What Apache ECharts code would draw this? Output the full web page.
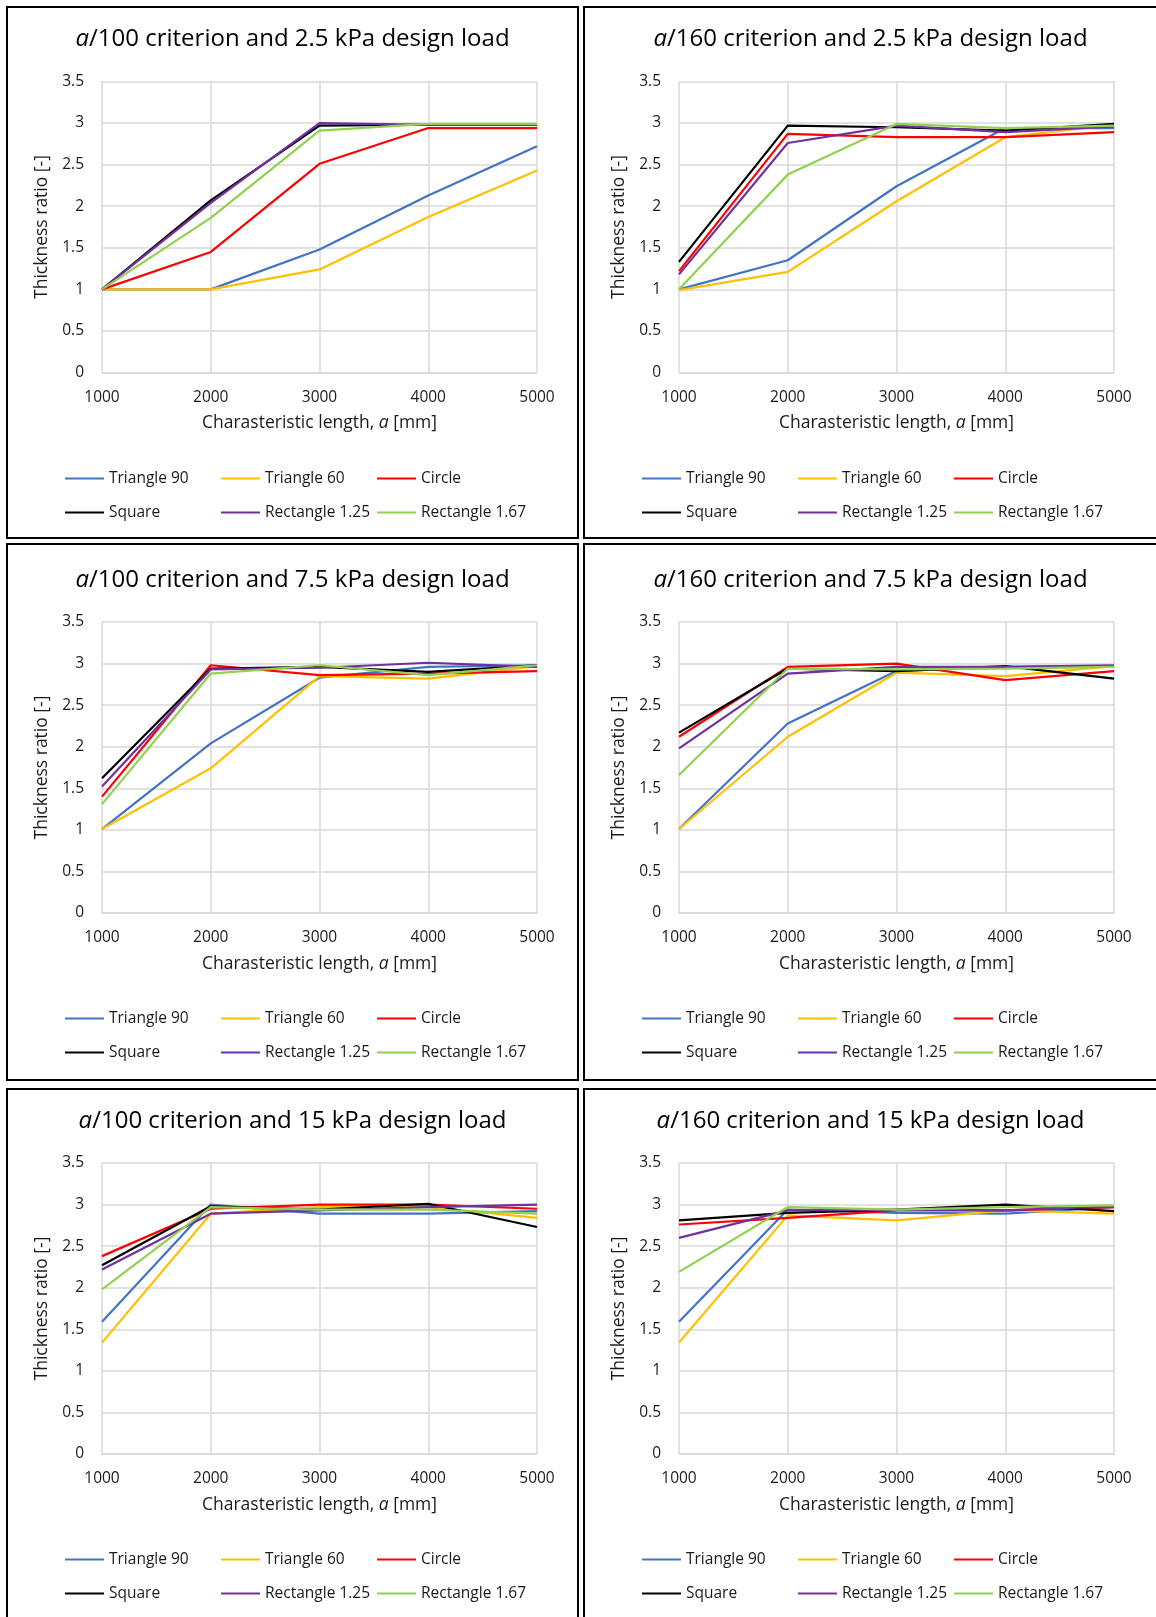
<!DOCTYPE html>
<html>
<head>
<meta charset="utf-8">
<script src="https://cdn.jsdelivr.net/npm/echarts@6/dist/echarts.min.js"></script>
<style>
  html, body { margin: 0; padding: 0; background: #fff; }
  #page { position: relative; width: 1156px; height: 1617px; overflow: hidden; }
  .panel { position: absolute; box-sizing: border-box; border: 2px solid #000; background: #fff; }
</style>
</head>
<body>
<div id="page"></div>
<script>
// x values (characteristic length, mm)
const lengths = [1000, 2000, 3000, 4000, 5000];
const shapeNames = ['Triangle 90', 'Triangle 60', 'Circle', 'Square', 'Rectangle 1.25', 'Rectangle 1.67'];
const shapeColors = ['#4472C4', '#FFC000', '#FF0000', '#000000', '#7030A0', '#92D050'];
const yTicks = [0, 0.5, 1, 1.5, 2, 2.5, 3, 3.5];

// thickness ratio per shape, one row per shape in shapeNames order
const a100_2_5kPa = [
  [1.00, 1.00, 1.48, 2.13, 2.72],
  [1.00, 1.00, 1.24, 1.87, 2.43],
  [1.00, 1.45, 2.51, 2.94, 2.94],
  [1.00, 2.07, 2.97, 2.98, 2.98],
  [1.00, 2.04, 3.00, 2.98, 2.98],
  [1.00, 1.86, 2.91, 2.99, 2.99]
];
const a160_2_5kPa = [
  [1.00, 1.35, 2.24, 2.94, 2.94],
  [0.99, 1.21, 2.06, 2.83, 2.98],
  [1.22, 2.87, 2.83, 2.83, 2.89],
  [1.33, 2.97, 2.95, 2.91, 2.99],
  [1.18, 2.76, 2.97, 2.89, 2.96],
  [1.00, 2.38, 2.99, 2.94, 2.97]
];
const a100_7_5kPa = [
  [1.01, 2.04, 2.83, 2.96, 2.98],
  [1.01, 1.74, 2.85, 2.82, 2.97],
  [1.40, 2.98, 2.86, 2.88, 2.91],
  [1.62, 2.94, 2.96, 2.90, 2.98],
  [1.52, 2.93, 2.95, 3.01, 2.96],
  [1.31, 2.88, 2.98, 2.86, 2.98]
];
const a160_7_5kPa = [
  [1.01, 2.28, 2.91, 2.96, 2.97],
  [1.01, 2.12, 2.89, 2.85, 2.97],
  [2.12, 2.96, 3.00, 2.80, 2.91],
  [2.17, 2.94, 2.91, 2.97, 2.82],
  [1.98, 2.88, 2.96, 2.96, 2.98],
  [1.66, 2.94, 2.93, 2.94, 2.96]
];
const a100_15kPa = [
  [1.59, 3.00, 2.89, 2.89, 2.92],
  [1.34, 2.89, 2.97, 2.97, 2.84],
  [2.38, 2.95, 3.00, 3.00, 2.95],
  [2.27, 2.98, 2.94, 3.01, 2.73],
  [2.22, 2.89, 2.93, 2.97, 3.00],
  [1.98, 2.97, 2.94, 2.94, 2.89]
];
const a160_15kPa = [
  [1.59, 2.94, 2.90, 2.89, 2.97],
  [1.34, 2.87, 2.81, 2.93, 2.89],
  [2.76, 2.84, 2.93, 2.93, 2.97],
  [2.81, 2.90, 2.94, 3.00, 2.92],
  [2.60, 2.93, 2.94, 2.93, 2.98],
  [2.19, 2.97, 2.94, 2.97, 2.99]
];

const criteria = ['100', '160'];
const loads = ['2.5', '7.5', '15'];
const panelData = [a100_2_5kPa, a160_2_5kPa, a100_7_5kPa, a160_7_5kPa, a100_15kPa, a160_15kPa];

// panel boxes on the page
const colLeft = [6, 583];
const colWidth = [573, 575];
const rowTop = [6, 543, 1088];
const rowHeight = [533, 538, 540];
// plot area inside each panel (content coordinates)
const gridTop = [73.5, 77, 73];
const titleMid = [31, 35.5, 31];
const legendTop = [462, 465, 461];

const FONT = '"Open Sans", Lato, sans-serif';
const TXT = '#1a1a1a';

const page = document.getElementById('page');

panelData.forEach(function (rows, idx) {
  const r = Math.floor(idx / 2), c = idx % 2;
  const div = document.createElement('div');
  div.className = 'panel';
  div.style.left = colLeft[c] + 'px';
  div.style.top = rowTop[r] + 'px';
  div.style.width = colWidth[c] + 'px';
  div.style.height = rowHeight[r] + 'px';
  page.appendChild(div);

  const chart = echarts.init(div, null, { renderer: 'canvas' });

  const series = rows.map(function (vals, k) {
    return {
      name: shapeNames[k],
      type: 'line',
      symbol: 'none',
      data: lengths.map(function (x, i) { return [x, vals[i]]; }),
      lineStyle: { color: shapeColors[k], width: 2.2 },
      itemStyle: { color: shapeColors[k] },
      emphasis: { disabled: true }
    };
  });

  const legendBase = {
    left: 57,
    padding: 0,
    itemGap: 0,
    icon: 'rect',
    itemWidth: 39,
    itemHeight: 2,
    textStyle: { fontFamily: FONT, fontSize: 15.5, color: TXT, width: 112, lineHeight: 17 }
  };

  chart.setOption({
    animation: false,
    title: {
      text: '{it|a}{n|/' + criteria[c] + ' criterion and ' + loads[r] + ' kPa design load}',
      left: 'center',
      top: titleMid[r] - 14,
      padding: 0,
      textStyle: {
        fontWeight: 'normal',
        rich: {
          it: { fontFamily: FONT, fontSize: 24, fontStyle: 'italic', fontWeight: 'normal', color: '#000', lineHeight: 28 },
          n: { fontFamily: FONT, fontSize: 24, fontWeight: 'normal', color: '#000', lineHeight: 28 }
        }
      }
    },
    legend: [
      Object.assign({ top: legendTop[r], data: shapeNames.slice(0, 3) }, legendBase),
      Object.assign({ top: legendTop[r] + 34, data: shapeNames.slice(3) }, legendBase)
    ],
    grid: { left: 94, top: gridTop[r], width: 435, height: 291, containLabel: false },
    xAxis: {
      type: 'value',
      min: 1000,
      max: 5000,
      interval: 1000,
      name: 'Charasteristic length, {it|a} [mm]',
      nameLocation: 'middle',
      nameGap: 42,
      nameTextStyle: {
        fontFamily: FONT, fontSize: 17.5, color: TXT,
        rich: { it: { fontFamily: FONT, fontSize: 17.5, fontStyle: 'italic', color: TXT } }
      },
      axisLine: { show: true, lineStyle: { color: '#d9d9d9', width: 1.5 } },
      axisTick: { show: false },
      axisLabel: {
        margin: 17, fontFamily: FONT, fontSize: 15.5, color: TXT,
        formatter: function (v) { return String(v); }
      },
      splitLine: { show: true, lineStyle: { color: '#d9d9d9', width: 1.5 } }
    },
    yAxis: {
      type: 'value',
      min: yTicks[0],
      max: yTicks[yTicks.length - 1],
      interval: 0.5,
      name: 'Thickness ratio [-]',
      nameLocation: 'middle',
      nameGap: 49,
      nameTextStyle: { fontFamily: FONT, fontSize: 17.5, color: TXT },
      axisLine: { show: false },
      axisTick: { show: false },
      axisLabel: { margin: 18, fontFamily: FONT, fontSize: 15.5, color: TXT },
      splitLine: { show: true, lineStyle: { color: '#d9d9d9', width: 1.5 } }
    },
    series: series
  });
});
</script>
</body>
</html>
